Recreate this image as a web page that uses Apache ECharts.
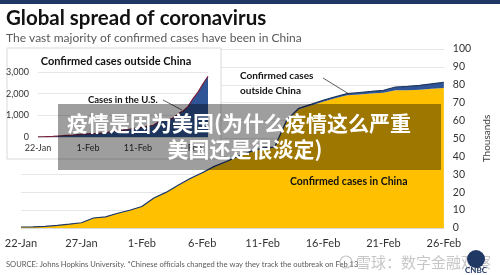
<!DOCTYPE html>
<html><head><meta charset="utf-8">
<script src="https://cdn.jsdelivr.net/npm/echarts@6/dist/echarts.min.js"></script>
<style>html,body{margin:0;padding:0;background:#fff}#c{width:500px;height:275px}</style>
</head><body><div id="c"></div>
<script>
const dates = ["22-Jan","23-Jan","24-Jan","25-Jan","26-Jan","27-Jan","28-Jan","29-Jan","30-Jan","31-Jan",
 "1-Feb","2-Feb","3-Feb","4-Feb","5-Feb","6-Feb","7-Feb","8-Feb","9-Feb","10-Feb","11-Feb","12-Feb","13-Feb",
 "14-Feb","15-Feb","16-Feb","17-Feb","18-Feb","19-Feb","20-Feb","21-Feb","22-Feb","23-Feb","24-Feb","25-Feb","26-Feb"];
// Confirmed cases in China (thousands)
const chinaK = [0.548,0.643,0.920,1.406,2.075,2.877,5.509,6.087,8.141,9.802,11.891,16.630,19.716,23.707,27.440,
 30.587,34.110,36.814,39.829,42.354,44.386,44.759,59.895,66.358,68.413,70.513,72.434,74.211,74.619,75.077,75.550,
 77.001,77.022,77.241,77.754,78.166];
// Confirmed cases outside China (cases)
const outside = [7,11,20,29,47,62,78,92,112,132,145,158,168,191,216,272,301,320,347,393,425,441,505,527,681,794,
 804,873,1073,1200,1402,1769,2069,2459,2800,3250];
const insetDates = dates.slice(0,35);
const insetOutside = outside.slice(0,35);
const mainTicks = [0,10,20,30,40,50,60,70,80,90,100];
const insetTicks = [0,1000,2000,3000];

const F = 'Lato, "Open Sans", sans-serif';
const chart = echarts.init(document.getElementById('c'), null, {renderer:'canvas'});
chart.setOption({
  animation:false,
  grid:[
    {left:21, right:53, top:49, bottom:47},
    {left:38, width:170, top:72, height:65}
  ],
  xAxis:[
    {gridIndex:0, type:'category', data:dates, boundaryGap:false,
     axisLine:{lineStyle:{color:'#d9d9d9'}}, axisTick:{show:false},
     axisLabel:{interval:4, color:'#333', fontFamily:F, fontSize:11, margin:10}},
    {gridIndex:1, type:'category', data:insetDates, boundaryGap:false, z:10,
     axisLine:{lineStyle:{color:'#d9d9d9'}}, axisTick:{show:false},
     axisLabel:{interval:9, color:'#333', fontFamily:F, fontSize:9, margin:7}}
  ],
  yAxis:[
    {gridIndex:0, type:'value', position:'right', min:0, max:mainTicks[mainTicks.length-1], interval:10,
     name:'Thousands', nameLocation:'middle', nameGap:30, nameRotate:90,
     nameTextStyle:{color:'#404040', fontFamily:F, fontSize:10},
     axisLine:{show:false}, axisTick:{show:false},
     axisLabel:{color:'#333', fontFamily:F, fontSize:10.5, margin:9},
     splitLine:{lineStyle:{color:'#e6e6e6'}}},
    {gridIndex:1, type:'value', min:0, max:insetTicks[insetTicks.length-1], interval:1000, z:10,
     axisLine:{show:false}, axisTick:{show:false},
     axisLabel:{color:'#333', fontFamily:F, fontSize:9, margin:9,
       formatter:v=>v.toLocaleString('en-US')},
     splitLine:{lineStyle:{color:'#e6e6e6'}}}
  ],
  series:[
    {type:'line', xAxisIndex:0, yAxisIndex:0, stack:'m', data:chinaK, symbol:'none',
     lineStyle:{width:0}, areaStyle:{color:'#FFC000', opacity:1}, z:2},
    {type:'line', xAxisIndex:0, yAxisIndex:0, stack:'m', data:outside.map(v=>v/1000), symbol:'none',
     lineStyle:{width:1.2, color:'#1F3864'}, areaStyle:{color:'#2F5597', opacity:1}, z:3},
    {type:'line', xAxisIndex:1, yAxisIndex:1, data:insetOutside, symbol:'none', z:11,
     lineStyle:{width:1.2, color:'#7A1F3D'}, areaStyle:{color:'#2F5597', opacity:1}}
  ],
  graphic:[
    {type:'rect', shape:{x:0,y:0,width:500,height:4}, style:{fill:'#1F3864'}, z:30},
    {type:'text', left:6, top:8, style:{text:'Global spread of coronavirus', fill:'#111', font:'bold 20.5px '+F}, z:30},
    {type:'text', left:6, top:32, style:{text:'The vast majority of confirmed cases have been in China', fill:'#595959', font:'12px '+F}, z:30},
    {type:'rect', shape:{x:7,y:48,width:214,height:111}, style:{fill:'#fff', stroke:'#d9d9d9', lineWidth:1}, z:5},
    {type:'text', x:116, y:61, style:{text:'Confirmed cases outside China', fill:'#111', font:'bold 11px '+F, textAlign:'center', textVerticalAlign:'middle'}, z:12},
    {type:'text', x:88, y:100, style:{text:'Cases in the U.S.', fill:'#111', font:'bold 9.5px '+F, textVerticalAlign:'middle'}, z:12},
    {type:'line', shape:{x1:163,y1:100,x2:182,y2:110}, style:{stroke:'#333', lineWidth:0.8}, z:12},
    {type:'text', x:240, y:76, style:{text:'Confirmed cases', fill:'#111', font:'bold 10px '+F, textVerticalAlign:'middle'}, z:12},
    {type:'text', x:240, y:91, style:{text:'outside China', fill:'#111', font:'bold 10px '+F, textVerticalAlign:'middle'}, z:12},
    {type:'line', shape:{x1:323,y1:78,x2:349,y2:94}, style:{stroke:'#333', lineWidth:0.8}, z:12},
    {type:'text', x:290, y:182, style:{text:'Confirmed cases in China', fill:'#111', font:'bold 10.5px '+F, textVerticalAlign:'middle'}, z:12},
    {type:'text', left:6, top:261, style:{text:'SOURCE: Johns Hopkins University. *Chinese officials changed the way they track the outbreak on Feb 13', fill:'#595959', font:'7.6px '+F}, z:30},
    {type:'circle', shape:{cx:346,cy:262,r:6}, style:{fill:'none', stroke:'rgba(160,160,160,0.6)', lineWidth:1.2}, z:30},
    {type:'text', x:356, y:262, style:{text:'雪球：数字金融观察', fill:'rgba(160,160,160,0.6)', font:'15px "Noto Sans CJK SC"', textVerticalAlign:'middle'}, z:30},
    {type:'circle', shape:{cx:476,cy:259,r:9, startAngle:Math.PI, endAngle:2*Math.PI}, style:{fill:'#1F3864'}, z:31},
    {type:'text', x:476, y:270, style:{text:'CNBC', fill:'#1F3864', font:'bold 8px '+F, textAlign:'center', textVerticalAlign:'middle'}, z:31},
    {type:'rect', shape:{x:58,y:104,width:383,height:66}, style:{fill:'rgba(0,0,0,0.38)'}, z:40},
    {type:'text', x:239, y:123, style:{text:'疫情是因为美国(为什么疫情这么严重', fill:'#fff', font:'bold 21px "Noto Sans CJK SC"', textAlign:'center', textVerticalAlign:'middle'}, z:41},
    {type:'text', x:245, y:149, style:{text:'美国还是很淡定)', fill:'#fff', font:'bold 21px "Noto Sans CJK SC"', textAlign:'center', textVerticalAlign:'middle'}, z:41}
  ]
});
</script></body></html>
